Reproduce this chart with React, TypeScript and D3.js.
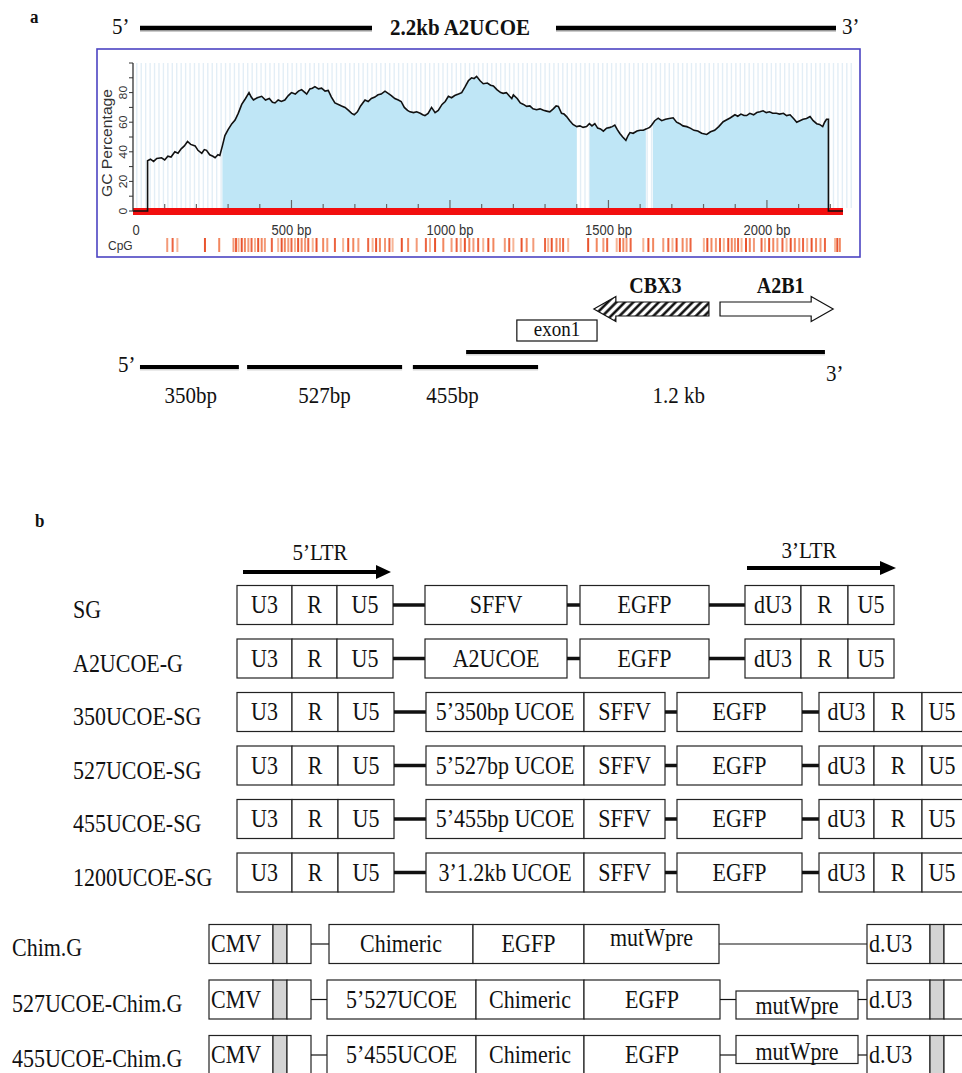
import React from 'react';
import * as d3 from 'd3';

const SERIF = '"Liberation Serif", "Times New Roman", serif';
const SANS = '"Liberation Sans", Arial, sans-serif';

// ---- panel a: GC profile of the 2.2kb A2UCOE (bp, GC %) ----
const gcPos = [
  0, 46, 46, 55, 65, 75, 90, 100, 110, 120, 132, 142, 152, 162, 172, 182, 196, 205, 217, 225,
  232, 242, 252, 259, 268, 274, 282, 290, 300, 312, 322, 332, 343, 355, 366, 373, 380, 392, 406, 418,
  430, 440, 448, 458, 468, 479, 490, 500, 512, 522, 532, 540, 548, 558, 566, 574, 585, 595, 606, 616,
  626, 637, 648, 658, 669, 680, 690, 698, 708, 718, 732, 742, 752, 763, 773, 783, 795, 805, 815, 826,
  837, 846, 856, 866, 874, 885, 895, 906, 914, 921, 931, 942, 953, 963, 975, 985, 995, 1005, 1015, 1027,
  1037, 1048, 1058, 1068, 1076, 1084, 1095, 1105, 1118, 1128, 1137, 1148, 1160, 1168, 1178, 1188, 1195, 1200, 1212, 1222,
  1232, 1242, 1252, 1262, 1273, 1284, 1295, 1305, 1315, 1326, 1335, 1342, 1352, 1360, 1368, 1378, 1388, 1400, 1410, 1420,
  1431, 1440, 1448, 1457, 1466, 1475, 1484, 1494, 1505, 1512, 1520, 1528, 1536, 1545, 1555, 1562, 1568, 1578, 1590, 1600,
  1610, 1620, 1630, 1636, 1646, 1657, 1668, 1680, 1692, 1704, 1715, 1725, 1735, 1747, 1758, 1770, 1782, 1794, 1810, 1822,
  1835, 1848, 1862, 1872, 1885, 1899, 1908, 1918, 1928, 1936, 1946, 1958, 1968, 1978, 1988, 1998, 2008, 2018, 2030, 2040,
  2052, 2062, 2073, 2084, 2094, 2104, 2114, 2125, 2136, 2146, 2157, 2166, 2176, 2182, 2188, 2194, 2194, 2240,
];
const gcValue = [
  0, 0, 34, 35, 33.5, 35.5, 36, 34.5, 37, 36.5, 40, 39, 42, 44, 47, 45, 44, 41, 39, 41.5,
  41, 38, 37, 36, 38, 37.5, 44, 51, 55, 59, 61.5, 66, 72, 76, 80, 77, 75, 76.5, 77.5, 75,
  76, 73.5, 73, 75, 74, 75, 78, 80, 79, 81, 82, 80.5, 79, 82.5, 83, 84, 82.5, 83, 81, 81.5,
  77, 73, 72, 71, 70, 68, 66, 65, 67, 71, 75, 74, 76, 77, 78.5, 79, 81, 79.5, 78, 76,
  75, 74, 70, 68, 67, 66.5, 67, 66, 65, 64.5, 66, 70, 66.5, 68, 72, 74, 77.5, 76.5, 78, 79,
  80, 84, 88, 90, 89.5, 91, 88, 86, 86.5, 85, 84.5, 82, 80, 79.5, 80, 77.5, 76, 78.5, 76, 73,
  72, 70.7, 71, 69, 68.4, 69, 68, 67.5, 67, 69, 71, 70.7, 66, 65.5, 63.8, 61, 58.5, 57, 57.5, 56.5,
  57, 59, 57.5, 59, 56, 55.5, 54, 56, 56.5, 57, 58, 55, 52.4, 50, 47.8, 51, 53, 52.5, 54, 54.6,
  54.6, 55.5, 56.5, 58, 61, 62.7, 61, 62, 62.5, 63, 60, 59, 57.5, 57, 56, 54.5, 54, 52.5, 51.7, 53.5,
  54.5, 57, 60.3, 61.5, 63, 65, 64, 65.5, 64.5, 64.5, 66, 65, 66.5, 67, 67.7, 66.5, 67, 66, 66, 65.5,
  66, 64.5, 65, 62.5, 60, 61, 62, 62.5, 63.8, 61, 59, 58.5, 57, 60, 62, 62, 0, 0,
];
const islandStart = [282, 1441, 1640];
const islandEnd = [1400, 1618, 2192];
const cpgSites = [
  108, 125, 140, 227, 272, 317, 325, 333, 343, 353, 364, 374, 385, 395, 406, 416, 438, 458, 469, 479,
  490, 500, 511, 521, 532, 543, 553, 567, 579, 600, 613, 637, 663, 679, 695, 711, 742, 756, 767, 779,
  795, 809, 819, 848, 868, 895, 924, 937, 953, 979, 1005, 1021, 1034, 1047, 1061, 1074, 1089, 1105, 1121, 1137,
  1173, 1187, 1200, 1226, 1242, 1263, 1300, 1310, 1321, 1336, 1347, 1357, 1373, 1436, 1463, 1484, 1496, 1526, 1536, 1547,
  1557, 1570, 1610, 1626, 1641, 1673, 1689, 1702, 1715, 1734, 1747, 1759, 1801, 1812, 1825, 1839, 1852, 1864, 1878, 1889,
  1899, 1909, 1920, 1934, 1946, 1959, 1983, 1994, 2007, 2020, 2033, 2049, 2062, 2075, 2088, 2102, 2114, 2127, 2141, 2155,
  2169, 2183, 2215, 2222, 2230,
];
const bpLabels = [0, 500, 1000, 1500, 2000];
const gcLabels = [0, 20, 40, 60, 80];

// fragments and genes under the profile (bp)
const fragNames = ['350bp', '527bp', '455bp', '1.2 kb'];
const fragStart = [22, 360, 883, 1051];
const fragEnd = [334, 849, 1278, 2183];
const fragLabelAt = [182, 604, 1008, 1722];
const geneNames = ['CBX3', 'A2B1'];
const geneStart = [1454, 1852];
const geneEnd = [1817, 2209];
const geneStrand = [-1, 1];
const exonNames = ['exon1'];
const exonStart = [1211];
const exonEnd = [1464];

// ---- panel b: vector constructs ----
const sgNames = ['SG', 'A2UCOE-G', '350UCOE-SG', '527UCOE-SG', '455UCOE-SG', '1200UCOE-SG'];
const sgInsert = ['SFFV', 'A2UCOE', '5\u2019350bp UCOE', '5\u2019527bp UCOE', '5\u2019455bp UCOE', '3\u20191.2kb UCOE'];
const ltr5Parts = ['U3', 'R', 'U5'];
const ltr3Parts = ['dU3', 'R', 'U5'];
const chimNames = ['Chim.G', '527UCOE-Chim.G', '455UCOE-Chim.G'];
const chimUcoe = ['', '5\u2019527UCOE', '5\u2019455UCOE'];

type Seg = {
  x0: number; x1: number; kind: 'box' | 'gray' | 'thick' | 'thin';
  text?: string; anchor?: 'start' | 'middle'; tx?: number; ty?: number; top?: number; bot?: number;
};

function Txt({ x, y, children, size = 22, anchor = 'middle', weight = 'normal', family = SERIF, fill = '#111', rotate = 0, stretch = 1.12 }: any) {
  const tf = rotate
    ? `translate(${x},${y}) rotate(${rotate}) scale(${stretch},1)`
    : `translate(${x},${y}) scale(1,${stretch})`;
  return (
    <text transform={tf} textAnchor={anchor} fontSize={size} fontWeight={weight} fontFamily={family} fill={fill}>
      {children}
    </text>
  );
}

function arrowPath(xa: number, xb: number, cy: number, dir: number, bh = 7, hh = 12.5, hl = 22) {
  if (dir < 0) {
    return `M${xa},${cy} L${xa + hl},${cy - hh} L${xa + hl},${cy - bh} L${xb},${cy - bh} L${xb},${cy + bh} L${xa + hl},${cy + bh} L${xa + hl},${cy + hh} Z`;
  }
  return `M${xb},${cy} L${xb - hl},${cy - hh} L${xb - hl},${cy - bh} L${xa},${cy - bh} L${xa},${cy + bh} L${xb - hl},${cy + bh} L${xb - hl},${cy + hh} Z`;
}

function sgSegs(i: number): Seg[] {
  if (i < 2) {
    return [
      { x0: 237, x1: 292, kind: 'box', text: ltr5Parts[0] },
      { x0: 292, x1: 337, kind: 'box', text: ltr5Parts[1] },
      { x0: 337, x1: 393, kind: 'box', text: ltr5Parts[2] },
      { x0: 393, x1: 425, kind: 'thick' },
      { x0: 425, x1: 567, kind: 'box', text: sgInsert[i] },
      { x0: 567, x1: 580, kind: 'thick' },
      { x0: 580, x1: 709, kind: 'box', text: 'EGFP' },
      { x0: 709, x1: 745, kind: 'thick' },
      { x0: 745, x1: 801, kind: 'box', text: ltr3Parts[0] },
      { x0: 801, x1: 848, kind: 'box', text: ltr3Parts[1] },
      { x0: 848, x1: 894, kind: 'box', text: ltr3Parts[2] },
    ];
  }
  return [
    { x0: 237, x1: 292, kind: 'box', text: ltr5Parts[0] },
    { x0: 292, x1: 338, kind: 'box', text: ltr5Parts[1] },
    { x0: 338, x1: 394, kind: 'box', text: ltr5Parts[2] },
    { x0: 394, x1: 426, kind: 'thick' },
    { x0: 426, x1: 584, kind: 'box', text: sgInsert[i] },
    { x0: 584, x1: 665, kind: 'box', text: 'SFFV' },
    { x0: 665, x1: 677, kind: 'thick' },
    { x0: 677, x1: 802, kind: 'box', text: 'EGFP' },
    { x0: 802, x1: 819, kind: 'thick' },
    { x0: 819, x1: 874, kind: 'box', text: ltr3Parts[0] },
    { x0: 874, x1: 922, kind: 'box', text: ltr3Parts[1] },
    { x0: 922, x1: 980, kind: 'box', text: ltr3Parts[2], tx: 942 },
  ];
}

function chimSegs(i: number): Seg[] {
  const head: Seg[] = [
    { x0: 209, x1: 273, kind: 'box', text: 'CMV', anchor: 'start' },
    { x0: 273, x1: 287, kind: 'gray' },
    { x0: 287, x1: 311, kind: 'box' },
  ];
  const tail: Seg[] = [
    { x0: 867, x1: 930, kind: 'box', text: 'd.U3', anchor: 'start' },
    { x0: 930, x1: 944, kind: 'gray' },
    { x0: 944, x1: 990, kind: 'box' },
  ];
  if (i === 0) {
    return [
      ...head,
      { x0: 311, x1: 329, kind: 'thin' },
      { x0: 329, x1: 473, kind: 'box', text: 'Chimeric' },
      { x0: 473, x1: 584, kind: 'box', text: 'EGFP' },
      { x0: 584, x1: 719, kind: 'box', text: 'mutWpre', ty: -6 },
      { x0: 719, x1: 867, kind: 'thin' },
      ...tail,
    ];
  }
  return [
    ...head,
    { x0: 311, x1: 327, kind: 'thin' },
    { x0: 327, x1: 476, kind: 'box', text: chimUcoe[i] },
    { x0: 476, x1: 584, kind: 'box', text: 'Chimeric' },
    { x0: 584, x1: 720, kind: 'box', text: 'EGFP' },
    { x0: 720, x1: 736, kind: 'thin' },
    i === 1
      ? { x0: 736, x1: 858, kind: 'box', text: 'mutWpre', top: 11, ty: 6 }
      : { x0: 736, x1: 858, kind: 'box', text: 'mutWpre', bot: 11, ty: -3 },
    { x0: 858, x1: 867, kind: 'thin' },
    ...tail,
  ];
}

function Construct({ cy, segs }: { cy: number; segs: Seg[] }) {
  const h = 39;
  return (
    <g>
      {segs.map((s, k) => {
        if (s.kind === 'thick' || s.kind === 'thin') {
          return <line key={k} x1={s.x0} x2={s.x1} y1={cy} y2={cy} stroke="#111" strokeWidth={s.kind === 'thick' ? 3.5 : 1.2} />;
        }
        const y0 = cy - h / 2 + (s.top || 0);
        const y1 = cy + h / 2 - (s.bot || 0);
        const tx = s.tx ?? (s.anchor === 'start' ? s.x0 + 2 : (s.x0 + s.x1) / 2);
        return (
          <g key={k}>
            <rect x={s.x0} y={y0} width={s.x1 - s.x0} height={y1 - y0}
              fill={s.kind === 'gray' ? '#d4d4d4' : '#fff'} stroke="#222" strokeWidth={1.2} />
            {s.text ? (
              <Txt x={tx} y={cy + 8 + (s.ty || 0)} anchor={s.anchor || 'middle'}>
                {s.text}
              </Txt>
            ) : null}
          </g>
        );
      })}
    </g>
  );
}

function PanelA() {
  const x = d3.scaleLinear().domain([0, 2240]).range([133, 843]);
  const y = d3.scaleLinear().domain([0, 100]).range([211, 63]);
  const idx = d3.range(gcPos.length);
  const line = d3.line<number>().x((i) => x(gcPos[i])).y((i) => y(gcValue[i]));
  const area = d3.area<number>().x((i) => x(gcPos[i])).y0(y(0)).y1((i) => y(gcValue[i]));
  const stripes = d3.range(12, 2270, 14);
  const cpgColors = ['#f39a78', '#ec6440', '#f7b596', '#e9542e', '#f2875f'];
  const laneY = [367, 352];

  return (
    <g>
      <Txt x={30} y={23} size={17} weight="bold" anchor="start">a</Txt>
      {/* title bar */}
      <Txt x={112} y={34} size={21} anchor="start">5’</Txt>
      <line x1={140} x2={372} y1={30} y2={30} stroke="#aaa" strokeWidth={4} opacity={0.6} />
      <line x1={140} x2={372} y1={28} y2={28} stroke="#000" strokeWidth={4.5} />
      <Txt x={460} y={35} size={21} weight="bold">2.2kb A2UCOE</Txt>
      <line x1={556} x2={836} y1={30} y2={30} stroke="#aaa" strokeWidth={4} opacity={0.6} />
      <line x1={556} x2={836} y1={28} y2={28} stroke="#000" strokeWidth={4.5} />
      <Txt x={842} y={34} size={21} anchor="start">3’</Txt>

      {/* plot frame */}
      <rect x={97} y={49} width={763} height={208} fill="#fff" stroke="#4c44c2" strokeWidth={1.6} />
      <defs>
        <clipPath id="islands">
          {islandStart.map((s, i) => (
            <rect key={i} x={x(s)} y={50} width={x(islandEnd[i]) - x(s)} height={170} />
          ))}
        </clipPath>
      </defs>
      {stripes.map((b) => (
        <line key={b} x1={x(b)} x2={x(b)} y1={y(100)} y2={208} stroke="#e3eef6" strokeWidth={1.4} />
      ))}
      <path d={area(idx) || ''} fill="#bfe6f6" clipPath="url(#islands)" />
      <rect x={x(0)} y={208} width={x(2240) - x(0)} height={7} fill="#f20f0f" />
      {d3.range(100, 2201, 100).map((b) => (
        <line key={b} x1={x(b)} x2={x(b)} y1={208} y2={b % 500 === 0 ? 200 : 204} stroke="#666" strokeWidth={1.2} />
      ))}
      <path d={line(idx) || ''} fill="none" stroke="#111" strokeWidth={1.6} />
      {/* y axis */}
      <line x1={x(0)} x2={x(0)} y1={y(100)} y2={y(0)} stroke="#333" strokeWidth={1.3} />
      {d3.range(0, 101, 10).map((v) => (
        <line key={v} x1={x(0) - 4} x2={x(0)} y1={y(v)} y2={y(v)} stroke="#333" strokeWidth={1} />
      ))}
      {gcLabels.map((v) => (
        <Txt key={v} x={127} y={y(v)} size={11} family={SANS} fill="#333" rotate={-90}>{v}</Txt>
      ))}
      <Txt x={112} y={y(50) + 6} size={14} family={SANS} fill="#333" rotate={-90}>GC Percentage</Txt>
      {bpLabels.map((b) => (
        <Txt key={b} x={x(b) + (b === 0 ? 3 : 0)} y={235} size={13} family={SANS} fill="#333">
          {b === 0 ? '0' : `${b} bp`}
        </Txt>
      ))}
      <Txt x={108} y={250} size={12} family={SANS} fill="#333" anchor="start">CpG</Txt>
      {cpgSites.map((b, i) => (
        <line key={i} x1={x(b)} x2={x(b)} y1={238} y2={252} stroke={cpgColors[i % cpgColors.length]} strokeWidth={2} />
      ))}

      {/* genes */}
      <defs>
        <pattern id="hatch" patternUnits="userSpaceOnUse" width={6} height={6} patternTransform="rotate(45)">
          <rect width={6} height={6} fill="#fff" />
          <line x1={1.5} y1={0} x2={1.5} y2={6} stroke="#000" strokeWidth={2.4} />
        </pattern>
      </defs>
      {geneNames.map((g, i) => (
        <g key={g}>
          <path d={arrowPath(x(geneStart[i]), x(geneEnd[i]), 309, geneStrand[i])}
            fill={geneStrand[i] < 0 ? 'url(#hatch)' : '#fff'} stroke="#111" strokeWidth={1.2} />
          <Txt x={(x(geneStart[i]) + x(geneEnd[i])) / 2 + 4} y={293} size={20} weight="bold">{g}</Txt>
        </g>
      ))}
      {exonNames.map((e, i) => (
        <g key={e}>
          <rect x={x(exonStart[i])} y={320} width={x(exonEnd[i]) - x(exonStart[i])} height={21} fill="#fff" stroke="#111" strokeWidth={1.2} />
          <Txt x={(x(exonStart[i]) + x(exonEnd[i])) / 2} y={336} size={19}>{e}</Txt>
        </g>
      ))}

      {/* fragments */}
      <Txt x={118} y={372} size={21} anchor="start">5’</Txt>
      <Txt x={826} y={381} size={21} anchor="start">3’</Txt>
      {fragNames.map((f, i) => {
        const lane = i > 0 && fragStart[i] < fragEnd[i - 1] ? 1 : 0;
        return (
          <g key={f}>
            <line x1={x(fragStart[i])} x2={x(fragEnd[i])} y1={laneY[lane] + 1.5} y2={laneY[lane] + 1.5} stroke="#bbb" strokeWidth={4} opacity={0.6} />
            <line x1={x(fragStart[i])} x2={x(fragEnd[i])} y1={laneY[lane]} y2={laneY[lane]} stroke="#000" strokeWidth={4.2} />
            <Txt x={x(fragLabelAt[i])} y={403} size={21}>{f}</Txt>
          </g>
        );
      })}
    </g>
  );
}

function PanelB() {
  const rowY = d3.scalePoint<string>().domain(sgNames).range([605, 872.5]);
  const chimY = d3.scalePoint<string>().domain(chimNames).range([944, 1055]);
  return (
    <g>
      <Txt x={35} y={527} size={17} weight="bold" anchor="start">b</Txt>
      <Txt x={320} y={560} size={21}>5’LTR</Txt>
      <line x1={243} x2={378} y1={572} y2={572} stroke="#000" strokeWidth={4} />
      <path d="M376,565 L391,572 L376,579 Z" fill="#000" />
      <Txt x={809} y={558} size={21}>3’LTR</Txt>
      <line x1={747} x2={882} y1={568} y2={568} stroke="#000" strokeWidth={4} />
      <path d="M880,561 L896,568 L880,575 Z" fill="#000" />

      {sgNames.map((n, i) => (
        <g key={n}>
          <Txt x={73} y={(rowY(n) as number) + 13} anchor="start">{n}</Txt>
          <Construct cy={rowY(n) as number} segs={sgSegs(i)} />
        </g>
      ))}
      {chimNames.map((n, i) => (
        <g key={n}>
          <Txt x={12} y={(chimY(n) as number) + 12} anchor="start">{n}</Txt>
          <Construct cy={chimY(n) as number} segs={chimSegs(i)} />
        </g>
      ))}
    </g>
  );
}

export default function App() {
  return (
    <svg width={962} height={1073} viewBox="0 0 962 1073"
      style={{ position: 'absolute', left: 0, top: 0, background: '#fff' }}>
      <rect width={962} height={1073} fill="#fff" />
      <PanelA />
      <PanelB />
    </svg>
  );
}
